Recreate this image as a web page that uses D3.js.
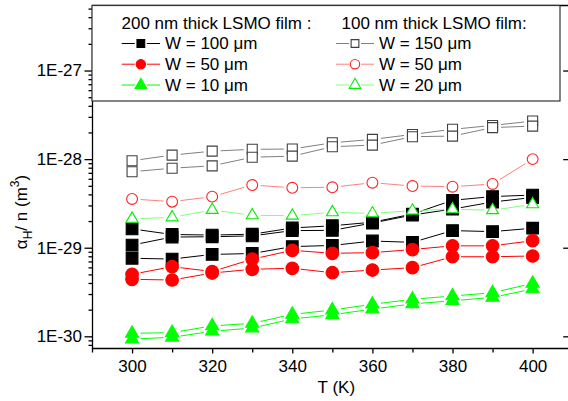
<!DOCTYPE html>
<html>
<head>
<meta charset="utf-8">
<script src="https://cdn.jsdelivr.net/npm/d3@7"></script>
<style>
  html, body { margin: 0; padding: 0; background: #fff; }
  svg { display: block; font-family: "Liberation Sans", Arial, sans-serif; }
</style>
</head>
<body>
<div id="chart"></div>
<script>
// temperatures (K)
const temps = [300, 310, 320, 330, 340, 350, 360, 370, 380, 390, 400];

// 200 nm film, filled symbols
const w100a = [1.63e-29, 1.41e-29, 1.39e-29, 1.42e-29, 1.67e-29, 1.77e-29, 1.94e-29, 2.40e-29, 3.43e-29, 3.78e-29, 3.93e-29];
const w100b = [1.07e-29, 1.32e-29, 1.33e-29, 1.36e-29, 1.56e-29, 1.57e-29, 1.90e-29, 2.34e-29, 2.73e-29, 3.28e-29, 3.69e-29];
const w100c = [7.6e-30, 7.45e-30, 8.4e-30, 8.6e-30, 1.03e-29, 1.06e-29, 1.19e-29, 1.15e-29, 1.56e-29, 1.52e-29, 1.66e-29];
const w50a = [5.01e-30, 6.11e-30, 5.39e-30, 7.42e-30, 9.35e-30, 8.65e-30, 8.79e-30, 9.54e-30, 1.05e-29, 1.05e-29, 1.20e-29];
const w50b = [4.40e-30, 4.32e-30, 5.18e-30, 5.71e-30, 5.86e-30, 5.22e-30, 5.60e-30, 5.95e-30, 7.91e-30, 7.91e-30, 8.06e-30];
const w10a = [1.08e-30, 1.10e-30, 1.31e-30, 1.40e-30, 1.77e-30, 1.98e-30, 2.30e-30, 2.62e-30, 2.85e-30, 3.10e-30, 3.96e-30];
const w10b = [9.3e-31, 9.75e-31, 1.14e-30, 1.24e-30, 1.57e-30, 1.75e-30, 2.03e-30, 2.32e-30, 2.52e-30, 2.75e-30, 3.42e-30];

// 100 nm film, open symbols
const w150a = [9.6e-29, 1.11e-28, 1.23e-28, 1.29e-28, 1.30e-28, 1.53e-28, 1.67e-28, 1.90e-28, 2.17e-28, 2.40e-28, 2.69e-28];
const w150b = [7.2e-29, 7.9e-29, 8.4e-29, 1.05e-28, 1.08e-28, 1.38e-28, 1.44e-28, 1.79e-28, 1.82e-28, 2.27e-28, 2.36e-28];
const w50open = [3.55e-29, 3.31e-29, 3.77e-29, 5.10e-29, 4.75e-29, 4.81e-29, 5.42e-29, 4.97e-29, 4.88e-29, 5.24e-29, 1.00e-28];
const w20open = [2.12e-29, 2.20e-29, 2.67e-29, 2.32e-29, 2.30e-29, 2.51e-29, 2.44e-29, 2.62e-29, 2.71e-29, 2.65e-29, 3.09e-29];

// axis ticks
const xTicks = [290, 300, 310, 320, 330, 340, 350, 360, 370, 380, 390, 400, 410];
const xLabels = [300, 320, 340, 360, 380, 400];
const yMajor = [1e-30, 1e-29, 1e-28, 1e-27];

// legend texts
const legendHeads = ["200 nm thick LSMO film :", "100 nm thick LSMO film:"];
const legendLeft = ["W = 100 μm", "W = 50 μm", "W = 10 μm"];
const legendRight = ["W = 150 μm", "W = 50 μm", "W = 20 μm"];

const width = 568, height = 401;
const plot = { left: 92, right: 572.7, top: 5.5, bottom: 348 };

const svg = d3.select('#chart').append('svg')
  .attr('width', width)
  .attr('height', height);

const xScale = d3.scaleLinear().domain([290, 410]).range([plot.left, plot.right]);
const yScale = d3.scaleLog().domain([7.38e-31, 5.42e-27]).range([plot.bottom, plot.top]);

// series styles
const series = [
  { data: w100a, sym: 'square', fill: '#000', stroke: '#000', line: '#000', size: 137 },
  { data: w100b, sym: 'square', fill: '#000', stroke: '#000', line: '#000', size: 137 },
  { data: w100c, sym: 'square', fill: '#000', stroke: '#000', line: '#000', size: 137 },
  { data: w50a, sym: 'circle', fill: '#ff0000', stroke: '#ff0000', line: '#ff0000', size: 125 },
  { data: w50b, sym: 'circle', fill: '#ff0000', stroke: '#ff0000', line: '#ff0000', size: 125 },
  { data: w10a, sym: 'triangle', fill: '#00ff00', stroke: '#00ff00', line: '#00ff00', size: 75 },
  { data: w10b, sym: 'triangle', fill: '#00ff00', stroke: '#00ff00', line: '#00ff00', size: 75 },
  { data: w150a, sym: 'square', fill: '#fff', stroke: '#404040', line: '#808080', size: 100 },
  { data: w150b, sym: 'square', fill: '#fff', stroke: '#404040', line: '#808080', size: 100 },
  { data: w50open, sym: 'circle', fill: '#fff', stroke: '#ff2020', line: '#ff8080', size: 92 },
  { data: w20open, sym: 'triangle', fill: '#fff', stroke: '#00ee00', line: '#80ff80', size: 62 }
];

const symType = { square: d3.symbolSquare, circle: d3.symbolCircle, triangle: d3.symbolTriangle };

function drawSymbol(g, s, cx, cy, size) {
  g.append('path')
    .attr('d', d3.symbol().type(symType[s.sym]).size(size)())
    .attr('transform', `translate(${cx},${cy})`)
    .attr('fill', s.fill)
    .attr('stroke', s.stroke)
    .attr('stroke-width', 1.1);
}

// lines with gaps at the symbols, the way Origin draws them
function drawGapLine(g, pts, color, gap) {
  for (let i = 0; i < pts.length - 1; i++) {
    const [x0, y0] = pts[i], [x1, y1] = pts[i + 1];
    const dx = x1 - x0, dy = y1 - y0;
    const len = Math.hypot(dx, dy);
    if (len <= 2 * gap) continue;
    const ux = dx / len, uy = dy / len;
    g.append('line')
      .attr('x1', x0 + ux * gap).attr('y1', y0 + uy * gap)
      .attr('x2', x1 - ux * gap).attr('y2', y1 - uy * gap)
      .attr('stroke', color)
      .attr('stroke-width', 1);
  }
}

const dataG = svg.append('g');
series.forEach(s => {
  const pts = temps.map((t, i) => [xScale(t), yScale(s.data[i])]);
  drawGapLine(dataG, pts, s.line, 8.5);
  pts.forEach(p => drawSymbol(dataG, s, p[0], p[1], s.size));
});

// axes
const fontSize = 17;

const minorY = [];
for (let e = -31; e <= -27; e++) {
  for (let k = 2; k <= 9; k++) {
    const v = k * Math.pow(10, e);
    if (v >= yScale.domain()[0] && v <= yScale.domain()[1]) minorY.push(v);
  }
}

const leftMinor = svg.append('g')
  .attr('transform', `translate(${plot.left},0)`)
  .call(d3.axisLeft(yScale).tickValues(minorY).tickSize(3.5).tickSizeOuter(0).tickFormat(''));
leftMinor.select('.domain').remove();

const leftMajor = svg.append('g')
  .attr('transform', `translate(${plot.left},0)`)
  .call(d3.axisLeft(yScale).tickValues(yMajor).tickSize(7.5).tickSizeOuter(0).tickPadding(2.5)
    .tickFormat(d => '1E' + Math.round(Math.log10(d))));

const rightAxis = svg.append('g')
  .attr('transform', `translate(${plot.right},0)`)
  .call(d3.axisLeft(yScale).tickValues(yMajor).tickSize(9.5).tickSizeOuter(0).tickFormat(''));

const bottomAxis = svg.append('g')
  .attr('transform', `translate(0,${plot.bottom})`)
  .call(d3.axisBottom(xScale).tickValues(xTicks).tickSize(4.5).tickSizeOuter(0).tickPadding(7)
    .tickFormat(d => xLabels.includes(d) ? d : ''));
bottomAxis.selectAll('.tick line').attr('y2', d => xLabels.includes(d) ? 5.5 : 4.5);

svg.append('line')
  .attr('x1', plot.left).attr('x2', plot.right)
  .attr('y1', plot.top).attr('y2', plot.top)
  .attr('stroke', '#000').attr('stroke-width', 1.3);

[leftMinor, leftMajor, rightAxis, bottomAxis].forEach(a => {
  a.selectAll('path, line').attr('stroke', '#000').attr('stroke-width', 1.3);
  a.selectAll('text')
    .attr('font-family', '"Liberation Sans", Arial, sans-serif')
    .attr('font-size', fontSize)
    .attr('fill', '#000');
});

// axis titles
svg.append('text')
  .attr('x', xScale(351)).attr('y', 393)
  .attr('text-anchor', 'middle')
  .attr('font-size', fontSize)
  .text('T (K)');

const yTitle = svg.append('text')
  .attr('transform', 'translate(27,212) rotate(-90)')
  .attr('text-anchor', 'middle')
  .attr('font-size', fontSize);
yTitle.append('tspan').text('α');
yTitle.append('tspan').attr('font-size', 12).attr('dy', 5).text('H');
yTitle.append('tspan').attr('dy', -5).text('/ n (m');
yTitle.append('tspan').attr('font-size', 12).attr('dy', -8).text('3');
yTitle.append('tspan').attr('dy', 8).text(')');

// legend
const leg = svg.append('g');
leg.append('rect')
  .attr('x', plot.left).attr('y', plot.top)
  .attr('width', 468).attr('height', 95.5)
  .attr('fill', '#fff')
  .attr('stroke', '#333')
  .attr('stroke-width', 1.2);

leg.append('text').attr('x', 121.5).attr('y', 29.3).attr('font-size', fontSize).text(legendHeads[0]);
leg.append('text').attr('x', 341.5).attr('y', 29.3).attr('font-size', fontSize).text(legendHeads[1]);

const legLeftStyles = [series[0], series[3], series[5]];
const legRightStyles = [series[7], series[9], series[10]];
const legSizes = { square: 60, circle: 68, triangle: 58 };
const rowY = [43.5, 64.2, 85];

function legendRow(s, label, x0, x1, cy) {
  const cx = (x0 + x1) / 2;
  drawGapLine(leg, [[x0 - 6, cy], [cx, cy], [x1 + 6, cy]], s.line, 6);
  drawSymbol(leg, s, cx, cy, legSizes[s.sym]);
  leg.append('text')
    .attr('x', x1 + 5).attr('y', cy + 5.8)
    .attr('font-size', fontSize)
    .text(label);
}

legendLeft.forEach((t, i) => legendRow(legLeftStyles[i], t, 121.7, 160, rowY[i]));
legendRight.forEach((t, i) => legendRow(legRightStyles[i], t, 336, 374, rowY[i]));
</script>
</body>
</html>
